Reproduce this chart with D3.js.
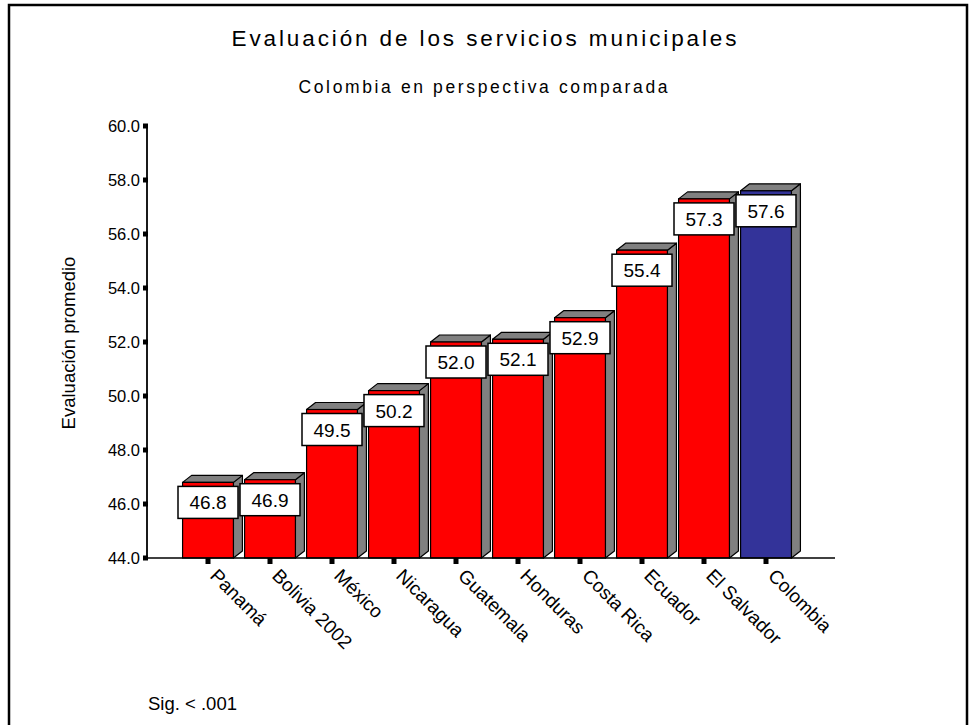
<!DOCTYPE html>
<html>
<head>
<meta charset="utf-8">
<script src="https://cdn.jsdelivr.net/npm/d3@7"></script>
<style>
html,body{margin:0;padding:0;background:#fff;}
svg{display:block;}
text{font-family:"Liberation Sans",Arial,sans-serif;fill:#000;}
</style>
</head>
<body>
<svg id="chart" width="971" height="725"></svg>
<script>
const categories = ["Panamá","Bolivia 2002","México","Nicaragua","Guatemala","Honduras","Costa Rica","Ecuador","El Salvador","Colombia"];
const values = [46.8,46.9,49.5,50.2,52.0,52.1,52.9,55.4,57.3,57.6];
const highlight = ["Colombia"];
const yTicks = [44,46,48,50,52,54,56,58,60];
const titleText = "Evaluación de los servicios municipales";
const subtitleText = "Colombia en perspectiva comparada";
const yLabel = "Evaluación promedio";
const noteText = "Sig. < .001";

const svg = d3.select("#chart");
// frame
svg.append("path").attr("d","M9,730 L9,5 L967,5 L967,730").attr("fill","none").attr("stroke","#000").attr("stroke-width",2.5);

const x = d3.scaleBand().domain(categories).range([177,797]).paddingInner(0.18).paddingOuter(0.09);
const y = d3.scaleLinear().domain([44,60]).range([558,126]);
const dx = 9, dy = -7;

// title
svg.append("text").attr("x",484).attr("y",46).attr("text-anchor","middle")
  .attr("font-size",22.5).attr("textLength",505).attr("lengthAdjust","spacing").text(titleText);
svg.append("text").attr("x",483).attr("y",93).attr("text-anchor","middle")
  .attr("font-size",17.5).attr("textLength",369).attr("lengthAdjust","spacing").text(subtitleText);

// bars
const g = svg.append("g");
categories.forEach((c,i)=>{
  const v = values[i];
  const x0 = x(c), w = x.bandwidth(), yt = y(v), yb = y(44);
  const col = highlight.includes(c) ? "#333399" : "#ff0000";
  g.append("polygon").attr("points",[[x0+w,yt],[x0+w+dx,yt+dy],[x0+w+dx,yb+dy],[x0+w,yb]].map(p=>p.join(",")).join(" "))
    .attr("fill","#808080").attr("stroke","#000").attr("stroke-width",1.2).attr("stroke-linejoin","round");
  g.append("polygon").attr("points",[[x0,yt],[x0+dx,yt+dy],[x0+w+dx,yt+dy],[x0+w,yt]].map(p=>p.join(",")).join(" "))
    .attr("fill","#808080").attr("stroke","#000").attr("stroke-width",1.2).attr("stroke-linejoin","round");
  g.append("rect").attr("x",x0).attr("y",yt).attr("width",w).attr("height",yb-yt)
    .attr("fill",col).attr("stroke","#000").attr("stroke-width",1.2);
});

// axes
svg.append("line").attr("x1",147).attr("x2",835).attr("y1",558).attr("y2",558).attr("stroke","#000").attr("stroke-width",1.5);
svg.append("line").attr("x1",147).attr("x2",147).attr("y1",125).attr("y2",559).attr("stroke","#000").attr("stroke-width",1.8);

yTicks.forEach(t=>{
  svg.append("rect").attr("x",143).attr("y",y(t)-2.5).attr("width",5).attr("height",5).attr("fill","#000");
  svg.append("text").attr("x",140).attr("y",y(t)+6).attr("text-anchor","end").attr("font-size",16.5).text(d3.format(".1f")(t));
});

categories.forEach(c=>{
  const cx = x(c)+x.bandwidth()/2;
  svg.append("rect").attr("x",cx-2.5).attr("y",558).attr("width",5).attr("height",6).attr("fill","#000");
  svg.append("text").attr("transform",`translate(${cx+1},577) rotate(45)`).attr("font-size",19).text(c);
});

// value labels
categories.forEach((c,i)=>{
  const cx = x(c)+x.bandwidth()/2, yt = y(values[i]);
  svg.append("rect").attr("x",cx-30).attr("y",yt+4).attr("width",60).attr("height",32)
    .attr("fill","#fff").attr("stroke","#000").attr("stroke-width",1.5);
  svg.append("text").attr("x",cx).attr("y",yt+27).attr("text-anchor","middle").attr("font-size",19).text(d3.format(".1f")(values[i]));
});

// y label
svg.append("text").attr("transform","translate(75,343) rotate(-90)").attr("text-anchor","middle").attr("font-size",18.5).text(yLabel);
// note
svg.append("text").attr("x",148).attr("y",710).attr("font-size",18.5).text(noteText);
</script>
</body>
</html>
